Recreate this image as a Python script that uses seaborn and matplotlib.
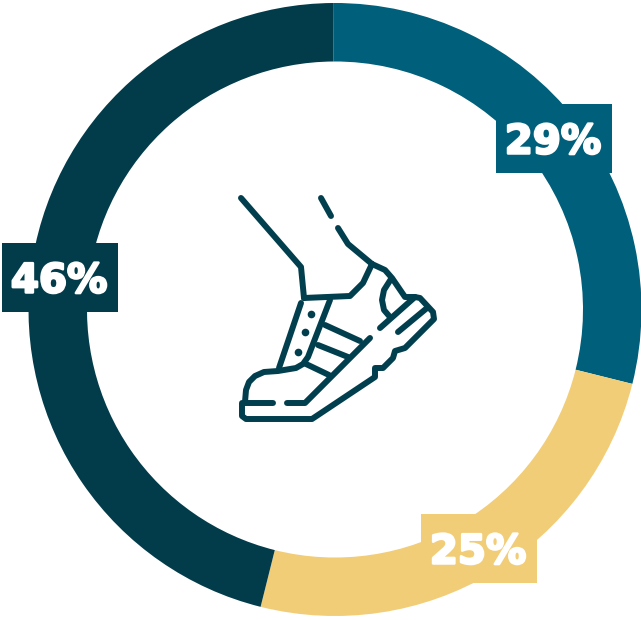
import matplotlib
matplotlib.use("Agg")
import matplotlib.pyplot as plt
import matplotlib.patheffects as pe
from matplotlib.patches import Rectangle
import seaborn as sns

# Shares, clockwise from twelve o'clock
segments = ["Blue", "Yellow", "Dark"]
shares = [29, 25, 46]
segment_colors = ["#005f7a", "#f2cd78", "#023c4a"]
label_boxes = [(496, 104), (421, 514), (2, 243)]
ICON = "#023f4e"

sns.set_theme(style="white")
sns.set_palette(segment_colors)

W, H = 641, 620
fig = plt.figure(figsize=(W / 100, H / 100), dpi=100)
ax = fig.add_axes([0, 0, 1, 1])

ax.pie(shares, colors=sns.color_palette(), startangle=90.35, counterclock=False,
       center=(335, -309.5), radius=306.5, frame=True,
       wedgeprops=dict(width=58.5, linewidth=0))
ax.set_xlim(0, W)
ax.set_ylim(-H, 0)
ax.set_aspect("equal")
ax.axis("off")

# Percentage tags sitting on the ring
BOX_W, BOX_H = 116, 69
for share, color, (bx, by) in zip(shares, segment_colors, label_boxes):
    ax.add_patch(Rectangle((bx, -by - BOX_H), BOX_W, BOX_H, color=color, lw=0, zorder=5))
    ax.text(bx + BOX_W / 2 - 1, -by - BOX_H / 2 - 4, f"{share}%", color="white",
            fontsize=29, fontweight="bold", family="DejaVu Sans",
            ha="center", va="center", zorder=6,
            path_effects=[pe.withStroke(linewidth=1.8, foreground="white")])

# Running shoe icon, outlined with round-capped strokes
strokes = [
    [(241, 198), (301, 267), (304, 298)],
    [(321, 198), (331, 216)],
    [(338, 228), (348, 244), (372, 264)],
    [(304, 298), (350, 296), (363, 283), (372, 264)],
    # upper, heel and outsole as one outline
    [(372, 264), (385, 270), (392, 278), (405, 297), (415, 297), (420, 298), (433, 312), (434, 319),
     (405, 348), (395, 351), (393, 358), (383, 368), (375, 368), (375, 377),
     (312, 419), (246, 419), (242, 416), (242, 403), (273, 403)],
    [(380, 328), (415, 297)],
    [(398, 332), (427, 308)],
    [(391, 279), (384, 290), (382, 300), (384, 310), (390, 317)],
    [(301, 303), (279, 368)],
    [(330, 300), (308, 357), (303, 364), (296, 368), (278, 371), (264, 372), (255, 376),
     (249, 382), (246, 390), (245, 402)],
    [(325, 325), (360, 341)],
    [(318, 345), (348, 357)],
    [(306, 364), (329, 375)],
    [(370, 338), (305, 403), (287, 403)],
]
for stroke in strokes:
    xs = [x for x, _ in stroke]
    ys = [-y for _, y in stroke]
    ax.plot(xs, ys, color=ICON, lw=4.3, solid_capstyle="round",
            solid_joinstyle="round", zorder=4)

for x, y in [(311, 314), (305, 332), (298, 352)]:
    ax.plot(x, -y, "o", color=ICON, ms=5.5, mew=0, zorder=4)

fig.savefig("out.png", dpi=100, facecolor="white")
